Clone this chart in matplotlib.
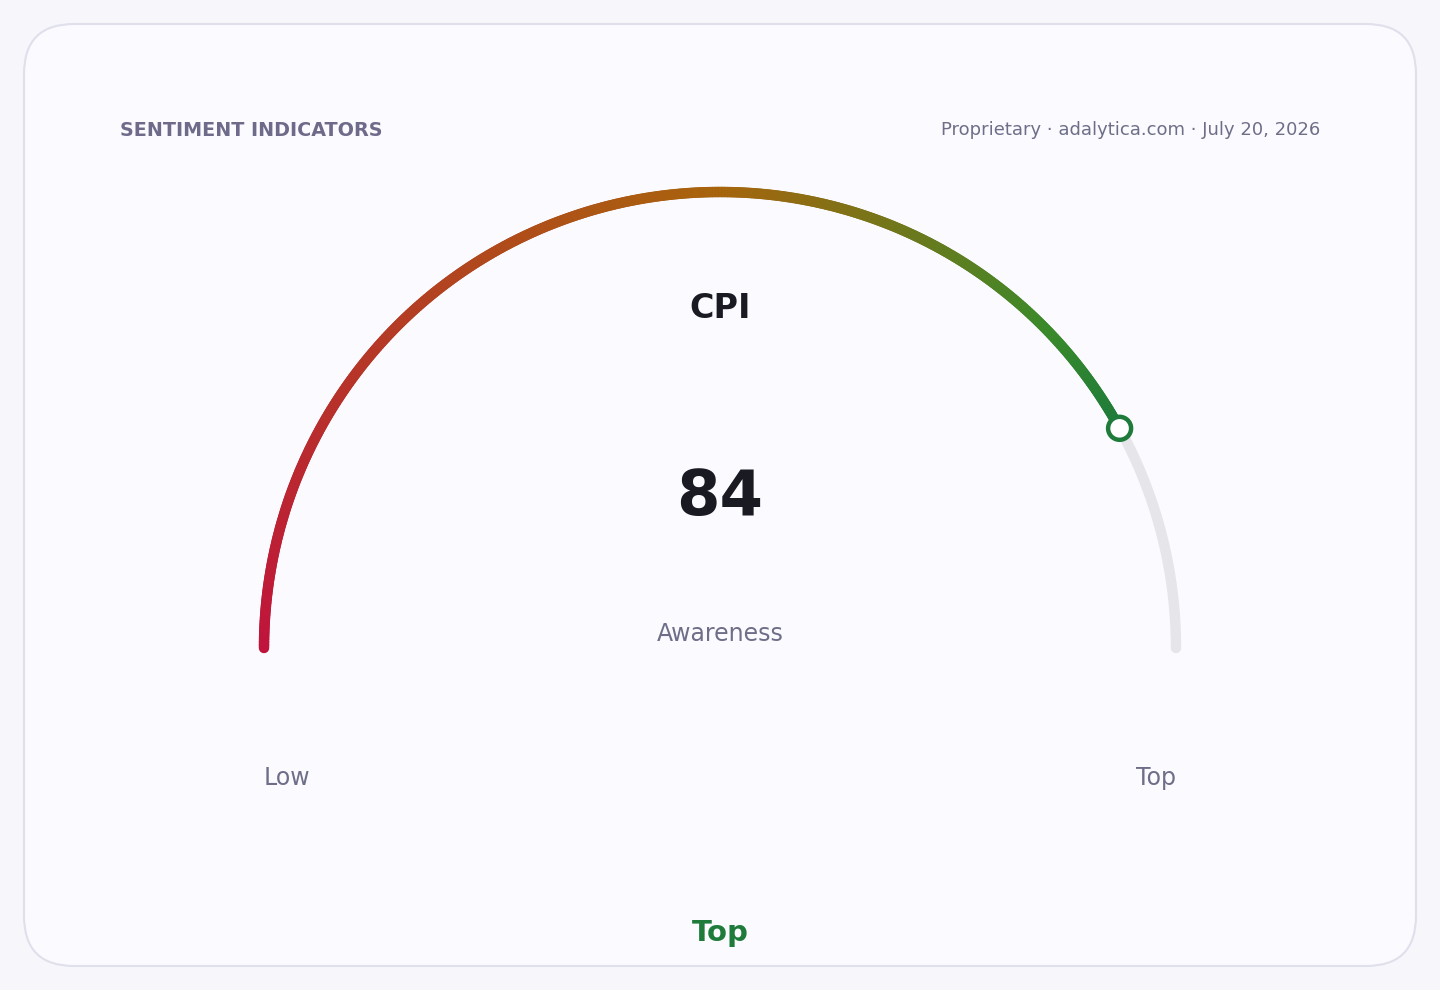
import numpy as np
import matplotlib
matplotlib.use('Agg')
import matplotlib.pyplot as plt
from matplotlib.collections import LineCollection
from matplotlib.colors import LinearSegmentedColormap
from matplotlib.patches import FancyBboxPatch, Circle

# gauge data
value = 84
vmin, vmax = 0, 100
metric = 'CPI'
sublabel = 'Awareness'
band_label = 'Top'
low_label = 'Low'
high_label = 'Top'
title = 'SENTIMENT INDICATORS'
source = 'Proprietary · adalytica.com · July 20, 2026'

# colour stops along the full 0..100 scale
grad_stops = [0.0, 0.5, 0.76, 1.0]
grad_colors = ['#c0143c', '#a8640c', '#3a8a2a', '#1e7b3a']
band_color = '#1e7b3a'

plt.rcParams['font.family'] = ['DejaVu Sans']

fig = plt.figure(figsize=(14.4, 9.9), dpi=100)
fig.patch.set_facecolor('#f6f6fb')
ax = fig.add_axes([0, 0, 1, 1])
ax.set_xlim(0, 1440)
ax.set_ylim(990, 0)
ax.axis('off')

# card
card = FancyBboxPatch((24, 24), 1392, 942, boxstyle='round,pad=0,rounding_size=50',
                      facecolor='#fafaff', edgecolor='#e0e0ec', linewidth=1.5)
ax.add_patch(card)

cx, cy, r = 720, 648, 456
lw = 7.5

# gray track over the full range
th = np.linspace(np.pi, 0, 400)
ax.plot(cx + r * np.cos(th), cy - r * np.sin(th), color='#e6e6ea', lw=lw,
        solid_capstyle='round', zorder=2)

# coloured arc up to the value
frac = (value - vmin) / (vmax - vmin)
th_end = np.pi * (1 - frac)
th = np.linspace(np.pi, th_end, 400)
xs = cx + r * np.cos(th)
ys = cy - r * np.sin(th)
pts = np.column_stack([xs, ys]).reshape(-1, 1, 2)
segs = np.concatenate([pts[:-1], pts[1:]], axis=1)
# map position on the scale, last stop reached at the value
cmap = LinearSegmentedColormap.from_list('g', list(zip(grad_stops, grad_colors)))
pos = np.linspace(0, frac, len(segs)) / frac
scale_pos = np.interp(pos, [0, 0.5 / frac, 0.76 / frac, 1.0], grad_stops)
lc = LineCollection(segs, colors=cmap(scale_pos), linewidths=lw,
                    capstyle='round', zorder=3)
ax.add_collection(lc)

# marker at the value
mx, my = cx + r * np.cos(th_end), cy - r * np.sin(th_end)
ax.add_patch(Circle((mx, my), 11.5, facecolor='white', edgecolor=band_color,
                    linewidth=3.2, zorder=5))

# texts
ax.text(120, 130, title, fontsize=13.8, fontweight='bold', color='#6e6a8a',
        ha='left', va='center')
ax.text(1320, 130, source, fontsize=13, color='#6e6e88', ha='right', va='center')
ax.text(cx, 309, metric, fontsize=24, fontweight='bold', color='#1a1a22',
        ha='center', va='center')
ax.text(cx, 498, str(value), fontsize=45, fontweight='bold', color='#1a1a22',
        ha='center', va='center')
ax.text(cx, 634, sublabel, fontsize=17, color='#6e6e88', ha='center', va='center')
ax.text(264, 778, low_label, fontsize=17, color='#6e6e88', ha='left', va='center')
ax.text(1176, 778, high_label, fontsize=17, color='#6e6e88', ha='right', va='center')
ax.text(cx, 933, band_label, fontsize=21, fontweight='bold', color=band_color,
        ha='center', va='center')

fig.savefig('out.png', dpi=100, facecolor=fig.get_facecolor())
